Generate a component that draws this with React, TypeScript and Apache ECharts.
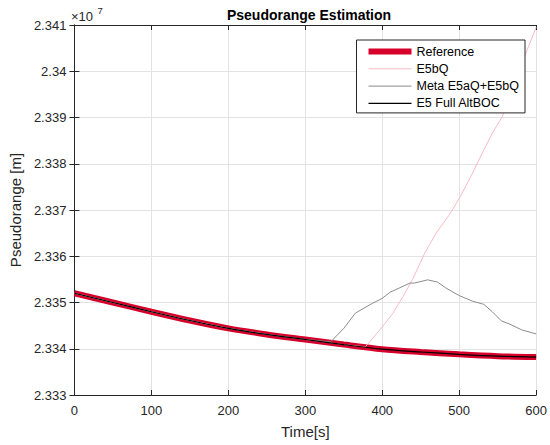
import React, { useEffect, useRef } from "react";
import * as echarts from "echarts";

const xMin = 0;
const xMax = 600;
const xStep = 100;
const yMin = 23330000;
const yMax = 23410000;
const yStep = 10000;

const refTime = [0, 50, 100, 150, 200, 250, 300, 350, 400, 450, 500, 550, 600];
const refValue = [23352000, 23350000, 23348000, 23346100, 23344400, 23343100, 23342000, 23340900, 23339900, 23339300, 23338800, 23338400, 23338200];

const e5bqTime = [0, 50, 100, 150, 200, 250, 300, 350, 378, 397, 414, 427, 440, 455, 470, 487, 500, 515, 530, 543, 556, 570, 583, 600];
const e5bqValue = [23352000, 23350000, 23348000, 23346100, 23344400, 23343100, 23342000, 23340900, 23340400, 23344100, 23347700, 23351300, 23355200, 23360600, 23365000, 23368900, 23372500, 23377200, 23382300, 23386600, 23390200, 23396000, 23402400, 23409500];

const metaTime = [0, 50, 100, 150, 200, 250, 300, 333, 350, 365, 387, 400, 410, 423, 436, 442, 459, 472, 483, 500, 517, 532, 543, 555, 566, 581, 600];
const metaValue = [23352000, 23350000, 23348000, 23346100, 23344400, 23343100, 23342000, 23341500, 23344400, 23347700, 23349800, 23350900, 23352200, 23353200, 23354200, 23354200, 23354900, 23354400, 23353100, 23351500, 23350300, 23349600, 23348000, 23346000, 23345300, 23344100, 23343200];

const fullTime = [0, 50, 100, 150, 200, 250, 300, 350, 400, 450, 500, 550, 600];
const fullValue = [23352000, 23350000, 23348000, 23346100, 23344400, 23343100, 23342000, 23340900, 23339900, 23339300, 23338800, 23338400, 23338200];

const seriesNames = ["Reference", "E5bQ", "Meta E5aQ+E5bQ", "E5 Full AltBOC"];
const seriesColors = ["#d7002b", "#f6bcc3", "#8c8c8c", "#000000"];
const seriesWidths = [6, 1, 1, 1.2];

const pairs = (t: number[], v: number[]) => t.map((x, i) => [x, v[i]]);

const FONT = "'Liberation Sans', Arial, Helvetica, sans-serif";
const AX = "#262626";

export default function App() {
  const ref = useRef<HTMLDivElement>(null);
  useEffect(() => {
    if (!ref.current) return;
    const chart = echarts.init(ref.current, undefined, { renderer: "svg" });
    const tickInside = { show: true, inside: true, length: 5, lineStyle: { color: AX } };
    const mkSeries = (i: number, t: number[], v: number[], smooth: number | boolean) => ({
      name: seriesNames[i],
      type: "line",
      data: pairs(t, v),
      symbol: "none",
      smooth,
      lineStyle: { color: seriesColors[i], width: seriesWidths[i] },
      itemStyle: { color: seriesColors[i] },
      z: 2 + i,
    });
    chart.setOption({
      animation: false,
      backgroundColor: "#ffffff",
      textStyle: { fontFamily: FONT },
      title: {
        text: "Pseudorange Estimation",
        left: 304,
        textAlign: "center",
        top: 3,
        textStyle: { fontSize: 14, fontWeight: "bold", color: "#000", fontFamily: FONT },
      },
      grid: { left: 70, right: 12, top: 25, bottom: 50, containLabel: false },
      legend: {
        orient: "vertical",
        right: 25,
        top: 40,
        data: seriesNames.map((n, i) => ({
          name: n,
          lineStyle: { width: seriesWidths[i], color: seriesColors[i] },
        })),
        backgroundColor: "#ffffff",
        borderColor: AX,
        borderWidth: 1,
        borderRadius: 0,
        padding: [5, 6, 3, 9],
        itemGap: 4.3,
        itemWidth: 43,
        itemHeight: 14,
        itemStyle: { opacity: 0 },
        textStyle: { fontSize: 12.5, color: "#000", fontFamily: FONT },
      },
      xAxis: [
        {
          type: "value",
          min: xMin,
          max: xMax,
          interval: xStep,
          name: "Time[s]",
          nameLocation: "middle",
          nameGap: 29,
          nameTextStyle: { fontSize: 15, color: AX, fontFamily: FONT },
          axisLine: { show: true, lineStyle: { color: AX } },
          axisTick: tickInside,
          axisLabel: { fontSize: 13, color: AX, margin: 9, fontFamily: FONT },
          splitLine: { show: true, lineStyle: { color: "#e3e3e3" } },
        },
        {
          type: "value",
          position: "top",
          min: xMin,
          max: xMax,
          interval: xStep,
          axisLine: { show: true, lineStyle: { color: AX } },
          axisTick: tickInside,
          axisLabel: { show: false },
          splitLine: { show: false },
        },
      ],
      yAxis: [
        {
          type: "value",
          min: yMin,
          max: yMax,
          interval: yStep,
          name: "Pseudorange [m]",
          nameLocation: "middle",
          nameGap: 48,
          nameTextStyle: { fontSize: 15, color: AX, fontFamily: FONT },
          axisLine: { show: true, lineStyle: { color: AX } },
          axisTick: tickInside,
          axisLabel: {
            fontSize: 13,
            color: AX,
            margin: 8,
            fontFamily: FONT,
            formatter: (v: number) => String(parseFloat((v / 1e7).toFixed(3))),
          },
          splitLine: { show: true, lineStyle: { color: "#e3e3e3" } },
        },
        {
          type: "value",
          position: "right",
          min: yMin,
          max: yMax,
          interval: yStep,
          axisLine: { show: true, lineStyle: { color: AX } },
          axisTick: tickInside,
          axisLabel: { show: false },
          splitLine: { show: false },
        },
      ],
      graphic: [
        {
          type: "text",
          left: 71,
          top: 10,
          style: { text: "×10", fontSize: 13, fill: AX, fontFamily: FONT },
        },
        {
          type: "text",
          left: 97.5,
          top: 5,
          style: { text: "7", fontSize: 9.5, fill: AX, fontFamily: FONT },
        },
      ],
      series: [
        mkSeries(0, refTime, refValue, 0.3),
        mkSeries(1, e5bqTime, e5bqValue, false),
        mkSeries(2, metaTime, metaValue, false),
        mkSeries(3, fullTime, fullValue, 0.3),
      ],
    });
    return () => chart.dispose();
  }, []);
  return <div ref={ref} style={{ width: 550, height: 445, position: "absolute", left: 0, top: 0 }} />;
}
